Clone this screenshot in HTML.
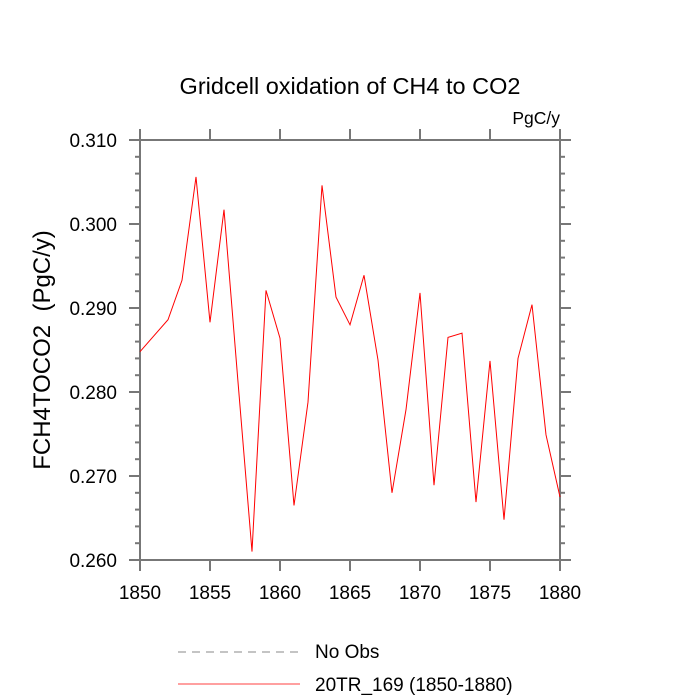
<!DOCTYPE html>
<html><head><meta charset="utf-8"><style>body{margin:0;background:#fff}svg{display:block;font-family:"Liberation Sans",sans-serif}</style></head>
<body>
<svg id="chart" width="700" height="700">
<text x="350" y="94" text-anchor="middle" font-size="23.5">Gridcell oxidation of CH4 to CO2</text>
<text x="560" y="124" text-anchor="end" font-size="17.5">PgC/y</text>
<text transform="translate(50,350) rotate(-90)" text-anchor="middle" font-size="24" xml:space="preserve" style="white-space:pre">FCH4TOCO2  (PgC/y)</text>
<g id="axes"></g>
<g id="series"></g>
<line x1="178" y1="652" x2="300" y2="652" stroke="#888" stroke-width="1" stroke-dasharray="8,6"/>
<text x="315" y="658" font-size="19">No Obs</text>
<line x1="178" y1="684" x2="300" y2="684" stroke="#f00" stroke-width="0.8"/>
<text x="315" y="691" font-size="19">20TR_169 (1850-1880)</text>
</svg>
<script>
const years=[1850,1851,1852,1853,1854,1855,1856,1857,1858,1859,1860,1861,1862,1863,1864,1865,1866,1867,1868,1869,1870,1871,1872,1873,1874,1875,1876,1877,1878,1879,1880];
const values=[0.2848,0.2867,0.2886,0.2933,0.3056,0.2883,0.3017,0.2812,0.2610,0.2921,0.2864,0.2665,0.2788,0.3046,0.2913,0.2880,0.2939,0.2838,0.2680,0.2779,0.2918,0.2689,0.2865,0.2870,0.2669,0.2837,0.2648,0.2840,0.2904,0.2749,0.2675];
const xTicks=[1850,1855,1860,1865,1870,1875,1880];
const yTicks=[0.260,0.270,0.280,0.290,0.300,0.310];
const L=140,R=560,T=140,B=560,x0=1850,x1=1880,y0=0.260,y1=0.310;
const X=v=>L+(v-x0)/(x1-x0)*(R-L);
const Y=v=>B-(v-y0)/(y1-y0)*(B-T);
const NS='http://www.w3.org/2000/svg';
const ax=document.getElementById('axes'),se=document.getElementById('series');
function mk(p,t,a){const e=document.createElementNS(NS,t);for(const k in a)e.setAttribute(k,a[k]);p.appendChild(e);return e;}
const fr=mk(ax,'rect',{x:L,y:T,width:R-L,height:B-T,fill:'none',stroke:'#777','stroke-width':2});


const g='#777';
xTicks.forEach(v=>{const x=X(v);
mk(ax,'line',{x1:x,y1:B,x2:x,y2:B+11,stroke:g,'stroke-width':2});
mk(ax,'line',{x1:x,y1:T,x2:x,y2:T-11,stroke:g,'stroke-width':2});
const t=mk(ax,'text',{x:x,y:B+39,'text-anchor':'middle','font-size':19});t.textContent=v;

});
for(let v=y0;v<=y1+1e-9;v+=0.002){const y=Y(v);
mk(ax,'line',{x1:L,y1:y,x2:L-5,y2:y,stroke:g,'stroke-width':2});
mk(ax,'line',{x1:R,y1:y,x2:R+5,y2:y,stroke:g,'stroke-width':2});}
yTicks.forEach(v=>{const y=Y(v);
mk(ax,'line',{x1:L,y1:y,x2:L-11,y2:y,stroke:g,'stroke-width':2});
mk(ax,'line',{x1:R,y1:y,x2:R+11,y2:y,stroke:g,'stroke-width':2});
const t=mk(ax,'text',{x:L-23,y:y+7,'text-anchor':'end','font-size':19});t.textContent=v.toFixed(3);

});
const pl=mk(se,'polyline',{points:years.map((yr,i)=>X(yr)+','+Y(values[i])).join(' '),fill:'none',stroke:'#f00','stroke-width':1});


</script>
</body></html>
